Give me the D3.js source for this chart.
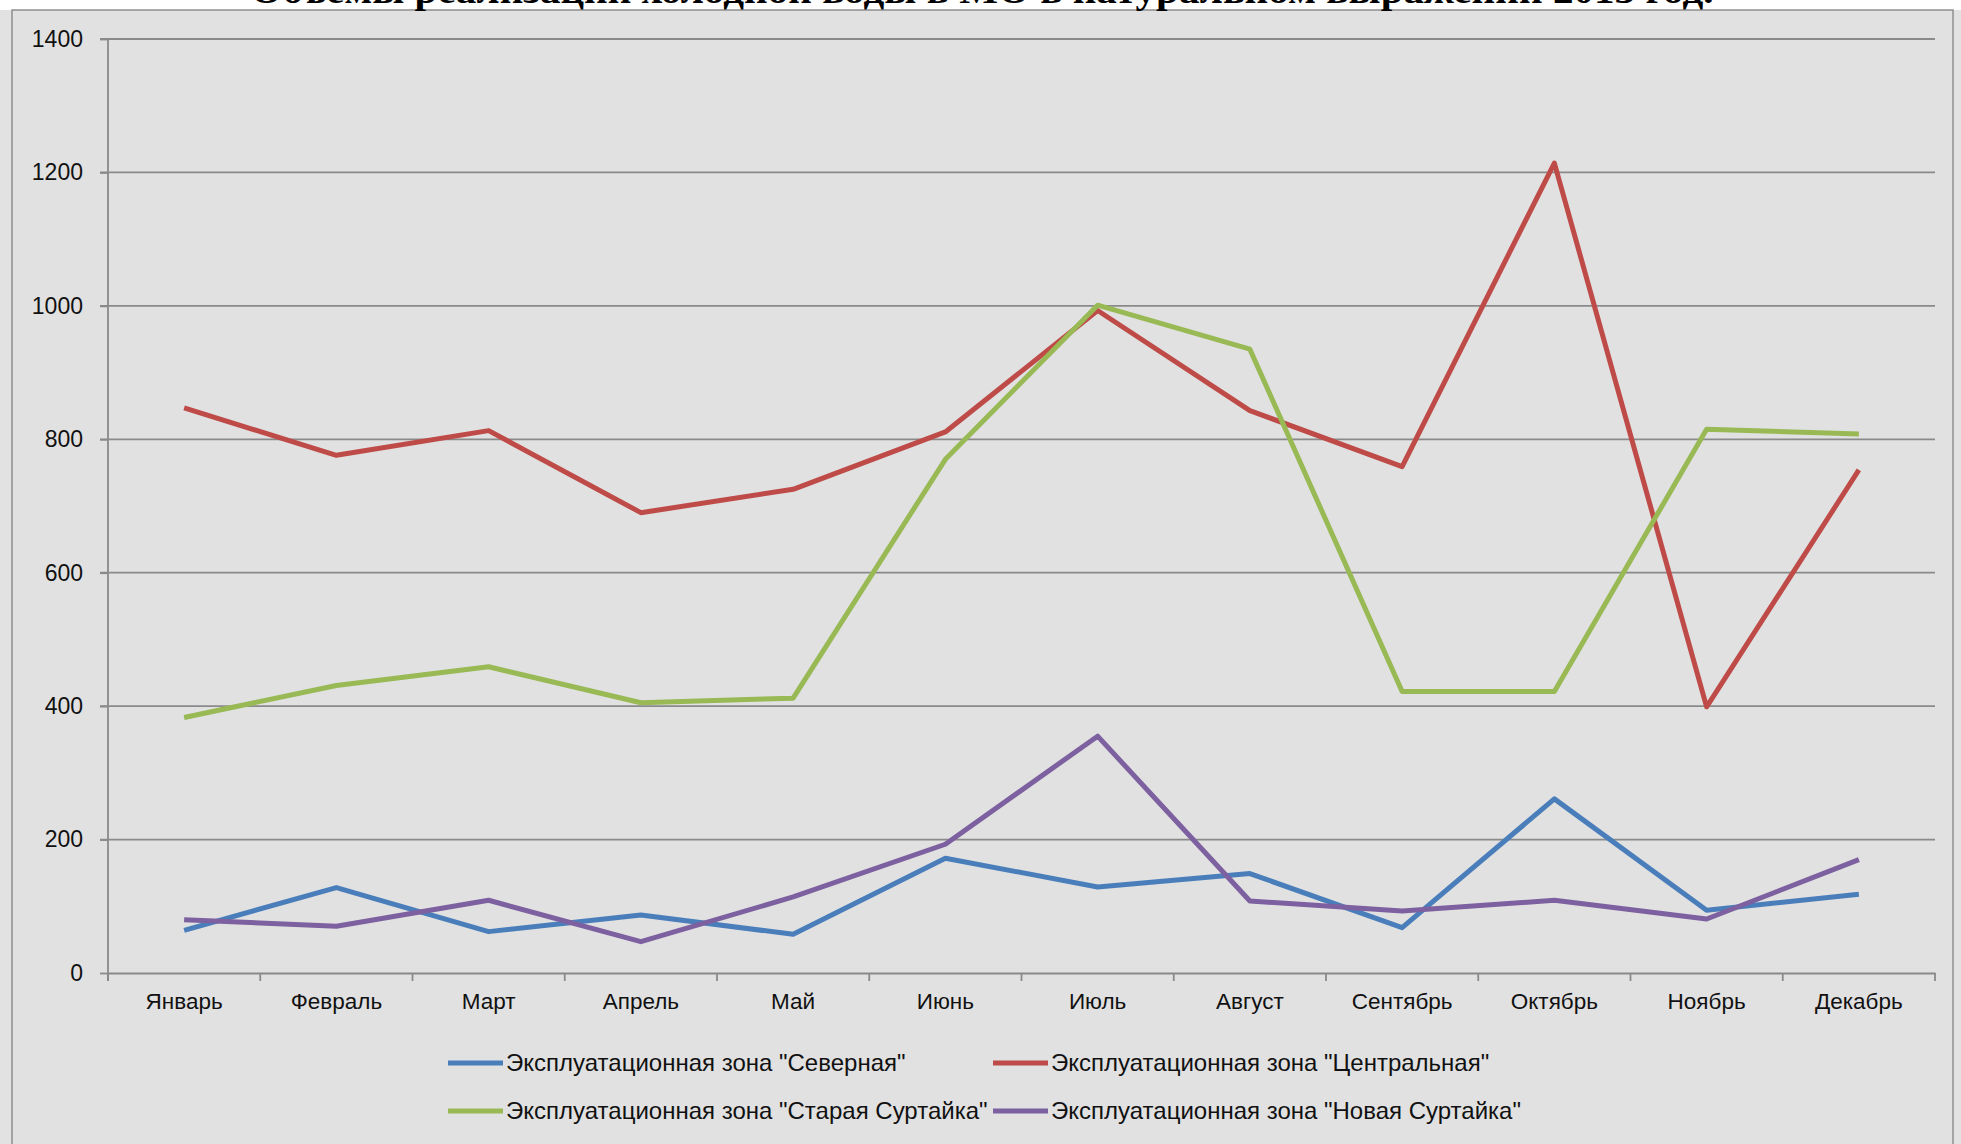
<!DOCTYPE html>
<html>
<head>
<meta charset="utf-8">
<script src="https://cdn.jsdelivr.net/npm/d3@7"></script>
<style>
  body { margin: 0; background: #fff; }
  svg { display: block; }
</style>
</head>
<body>
<div id="chart"></div>
<script>
// data
var months = ["Январь", "Февраль", "Март", "Апрель", "Май", "Июнь", "Июль", "Август", "Сентябрь", "Октябрь", "Ноябрь", "Декабрь"];
var severnaya = [64, 128, 62, 87, 58, 172, 129, 149, 68, 261, 94, 118];
var centralnaya = [847, 776, 813, 690, 725, 811, 993, 843, 759, 1214, 399, 754];
var staraya = [383, 431, 459, 405, 412, 770, 1001, 935, 422, 422, 815, 808];
var novaya = [80, 70, 109, 47, 114, 193, 355, 108, 93, 109, 81, 170];
var yTicks = [0, 200, 400, 600, 800, 1000, 1200, 1400];
var seriesNames = [
  'Эксплуатационная зона "Северная"',
  'Эксплуатационная зона "Центральная"',
  'Эксплуатационная зона "Старая Суртайка"',
  'Эксплуатационная зона "Новая Суртайка"'
];
var colors = ["#4a7ebb", "#be4b48", "#98b954", "#7d60a0"];
var title = "Объемы реализации холодной воды в МО в натуральном выражении 2013 год.";

var W = 1961, H = 1144;
var plotLeft = 108, plotRight = 1935, plotTop = 39, plotBottom = 973;

var svg = d3.select("#chart").append("svg")
  .attr("width", W).attr("height", H);

// chart area background + border
svg.append("rect").attr("x", 0).attr("y", 10).attr("width", W).attr("height", H - 10)
  .attr("fill", "#e2e2e2");
svg.append("rect").attr("x", 12).attr("y", 10).attr("width", W - 20).attr("height", H)
  .attr("fill", "#e1e1e1").attr("stroke", "#8f8f8f").attr("stroke-width", 1.5);

// title, mostly cut off at the top edge
svg.append("text")
  .attr("x", 982).attr("y", 3)
  .attr("text-anchor", "middle")
  .attr("font-family", "Liberation Serif, serif")
  .attr("font-weight", "bold")
  .attr("font-size", 38)
  .attr("textLength", 1463)
  .attr("lengthAdjust", "spacingAndGlyphs")
  .attr("fill", "#000")
  .text(title);

var x = d3.scaleBand().domain(months).range([plotLeft, plotRight]);
var y = d3.scaleLinear().domain([0, 1400]).range([plotBottom, plotTop]);
var cx = function(m) { return x(m) + x.bandwidth() / 2; };

// gridlines
svg.append("g").selectAll("line")
  .data(yTicks.filter(function(d) { return d > 0; }))
  .enter().append("line")
  .attr("x1", plotLeft - 8).attr("x2", plotRight)
  .attr("y1", function(d) { return y(d); }).attr("y2", function(d) { return y(d); })
  .attr("stroke", "#8a8a8a").attr("stroke-width", 1.8);

// y axis
var yAxis = svg.append("g")
  .attr("transform", "translate(" + plotLeft + ",0)")
  .call(d3.axisLeft(y).tickValues(yTicks).tickFormat(d3.format("d")).tickSize(8).tickPadding(17).tickSizeOuter(0));
yAxis.select(".domain").attr("stroke", "#8a8a8a").attr("stroke-width", 1.8)
  .attr("d", "M0," + plotTop + "V" + (plotBottom + 8));
yAxis.selectAll(".tick line").attr("stroke", "#8a8a8a").attr("stroke-width", 1.8);
yAxis.selectAll(".tick text")
  .attr("font-family", "Liberation Sans, Arial, sans-serif")
  .attr("font-size", 23).attr("fill", "#111");

// x axis: labels centred, ticks on the category edges
var xAxis = svg.append("g")
  .attr("transform", "translate(0," + plotBottom + ")")
  .call(d3.axisBottom(x).tickSize(0).tickPadding(20).tickSizeOuter(0));
xAxis.select(".domain").attr("stroke", "#8a8a8a").attr("stroke-width", 1.8);
xAxis.selectAll(".tick text")
  .attr("font-family", "Liberation Sans, Arial, sans-serif")
  .attr("font-size", 22.5).attr("fill", "#111");
xAxis.selectAll(".edge")
  .data(months.concat(["end"]))
  .enter().append("line").attr("class", "edge")
  .attr("x1", function(d) { return d === "end" ? plotRight : x(d); })
  .attr("x2", function(d) { return d === "end" ? plotRight : x(d); })
  .attr("y1", 0).attr("y2", 8)
  .attr("stroke", "#8a8a8a").attr("stroke-width", 1.8);

// lines
var allSeries = [severnaya, centralnaya, staraya, novaya];
var line = d3.line()
  .x(function(d, i) { return cx(months[i]); })
  .y(function(d) { return y(d); });

svg.append("g").selectAll("path")
  .data(allSeries)
  .enter().append("path")
  .attr("d", line)
  .attr("fill", "none")
  .attr("stroke", function(d, i) { return colors[i]; })
  .attr("stroke-width", 5)
  .attr("stroke-linejoin", "round");

// legend
var legendPos = [[448, 1063], [993, 1063], [448, 1111], [993, 1111]];
var leg = svg.append("g").selectAll("g")
  .data(seriesNames)
  .enter().append("g")
  .attr("transform", function(d, i) { return "translate(" + legendPos[i][0] + "," + legendPos[i][1] + ")"; });
leg.append("line")
  .attr("x1", 0).attr("x2", 55).attr("y1", 0).attr("y2", 0)
  .attr("stroke", function(d, i) { return colors[i]; })
  .attr("stroke-width", 5);
leg.append("text")
  .attr("x", 58).attr("y", 8)
  .attr("font-family", "Liberation Sans, Arial, sans-serif")
  .attr("font-size", 24).attr("fill", "#111")
  .text(function(d) { return d; });
</script>
</body>
</html>
